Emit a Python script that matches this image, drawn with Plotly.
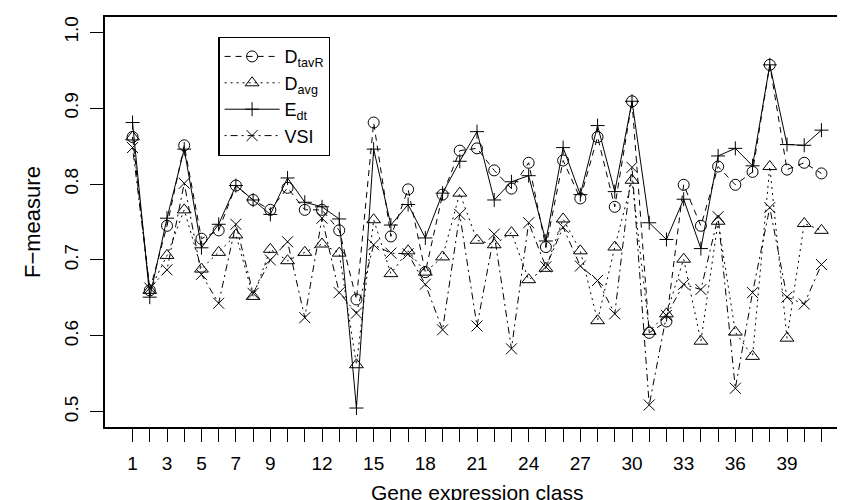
import plotly.graph_objects as go

classes = list(range(1, 42))

d_tavr = [0.862, 0.660, 0.745, 0.851, 0.728, 0.739, 0.798, 0.779, 0.766, 0.795,
          0.766, 0.766, 0.739, 0.648, 0.881, 0.731, 0.793, 0.684, 0.786, 0.844,
          0.847, 0.818, 0.794, 0.828, 0.717, 0.831, 0.781, 0.862, 0.770, 0.909,
          0.604, 0.619, 0.799, 0.745, 0.823, 0.799, 0.816, 0.957, 0.819, 0.828,
          0.814]

d_avg = [0.862, 0.660, 0.706, 0.766, 0.688, 0.710, 0.733, 0.652, 0.714, 0.699,
         0.710, 0.721, 0.709, 0.562, 0.753, 0.682, 0.712, 0.684, 0.704, 0.788,
         0.726, 0.720, 0.736, 0.674, 0.689, 0.754, 0.712, 0.620, 0.717, 0.805,
         0.606, 0.629, 0.701, 0.593, 0.751, 0.605, 0.573, 0.823, 0.597, 0.748,
         0.739]

e_dt = [0.881, 0.651, 0.755, 0.846, 0.716, 0.747, 0.798, 0.779, 0.760, 0.808,
        0.776, 0.770, 0.754, 0.505, 0.846, 0.746, 0.773, 0.729, 0.788, 0.830,
        0.869, 0.779, 0.803, 0.811, 0.725, 0.848, 0.786, 0.877, 0.790, 0.909,
        0.749, 0.727, 0.780, 0.715, 0.837, 0.847, 0.824, 0.957, 0.852, 0.851,
        0.871]

vsi = [0.848, 0.663, 0.687, 0.801, 0.681, 0.643, 0.747, 0.656, 0.700, 0.724,
       0.624, 0.755, 0.657, 0.630, 0.720, 0.709, 0.708, 0.668, 0.608, 0.760,
       0.613, 0.734, 0.583, 0.749, 0.691, 0.743, 0.692, 0.673, 0.629, 0.822,
       0.509, 0.627, 0.668, 0.661, 0.757, 0.531, 0.657, 0.769, 0.651, 0.642,
       0.694]

x_tick_labels = ["1", "3", "5", "7", "9", "12", "15", "18", "21", "24", "27",
                 "30", "33", "36", "39"]
y_ticks = [0.5, 0.6, 0.7, 0.8, 0.9, 1.0]

FONT = "Liberation Sans, Arial, Helvetica, sans-serif"
BLACK = "#000000"

series = [
    ("D<sub>tavR</sub>", d_tavr, "6px,5px", "circle-open", 11),
    ("D<sub>avg</sub>", d_avg, "2px,4px", "triangle-up-open", 12),
    ("E<sub>dt</sub>", e_dt, "solid", "cross-thin-open", 10),
    ("VSI", vsi, "2px,4px,7px,4px", "x-thin-open", 11),
]

fig = go.Figure()
for name, vals, dash, sym, size in series:
    fig.add_trace(go.Scatter(
        x=classes, y=vals, name=name, mode="lines+markers",
        line=dict(color=BLACK, width=1, dash=dash),
        marker=dict(symbol=sym, size=size, color=BLACK,
                    line=dict(color=BLACK, width=1)),
    ))

tick_text = [str(c) if str(c) in x_tick_labels else "" for c in classes]

fig.update_layout(
    width=845, height=500,
    margin=dict(l=97, r=2, t=9, b=81),
    paper_bgcolor="white", plot_bgcolor="white",
    font=dict(family=FONT, color=BLACK),
    showlegend=True,
    legend=dict(
        x=0.1524, y=0.9512, xanchor="left", yanchor="top",
        bordercolor=BLACK, borderwidth=1.2, bgcolor="white",
        font=dict(size=18, family=FONT, color=BLACK),
        tracegroupgap=0, itemsizing="trace", itemwidth=55,
    ),
    xaxis=dict(
        range=[-0.6, 42.6], tickmode="array", tickvals=classes, ticktext=tick_text,
        ticks="outside", ticklen=13, tickwidth=1.2, tickcolor=BLACK,
        showline=True, linecolor=BLACK, linewidth=1.5, mirror=True,
        showgrid=False, zeroline=False,
        tickfont=dict(size=19, family=FONT, color=BLACK),
        ticklabelstandoff=5,
    ),
    yaxis=dict(
        range=[0.48, 1.02], tickmode="array", tickvals=y_ticks,
        ticktext=[f"{v:.1f}" for v in y_ticks], tickangle=-90,
        ticks="outside", ticklen=13, tickwidth=1.2, tickcolor=BLACK,
        showline=True, linecolor=BLACK, linewidth=1.5, mirror=True,
        showgrid=False, zeroline=False,
        tickfont=dict(size=19, family=FONT, color=BLACK),
        ticklabelstandoff=5,
    ),
    annotations=[
        dict(text="Gene expression class", x=0.5, y=0, xref="paper", yref="paper",
             xanchor="center", yanchor="middle", yshift=-65, showarrow=False,
             font=dict(size=21, family=FONT, color=BLACK)),
        dict(text="F\u2212measure", x=0, y=0.5, xref="paper", yref="paper",
             xanchor="center", yanchor="middle", xshift=-73, textangle=-90,
             showarrow=False, font=dict(size=22, family=FONT, color=BLACK)),
    ],
)

fig.write_html("out.html")
